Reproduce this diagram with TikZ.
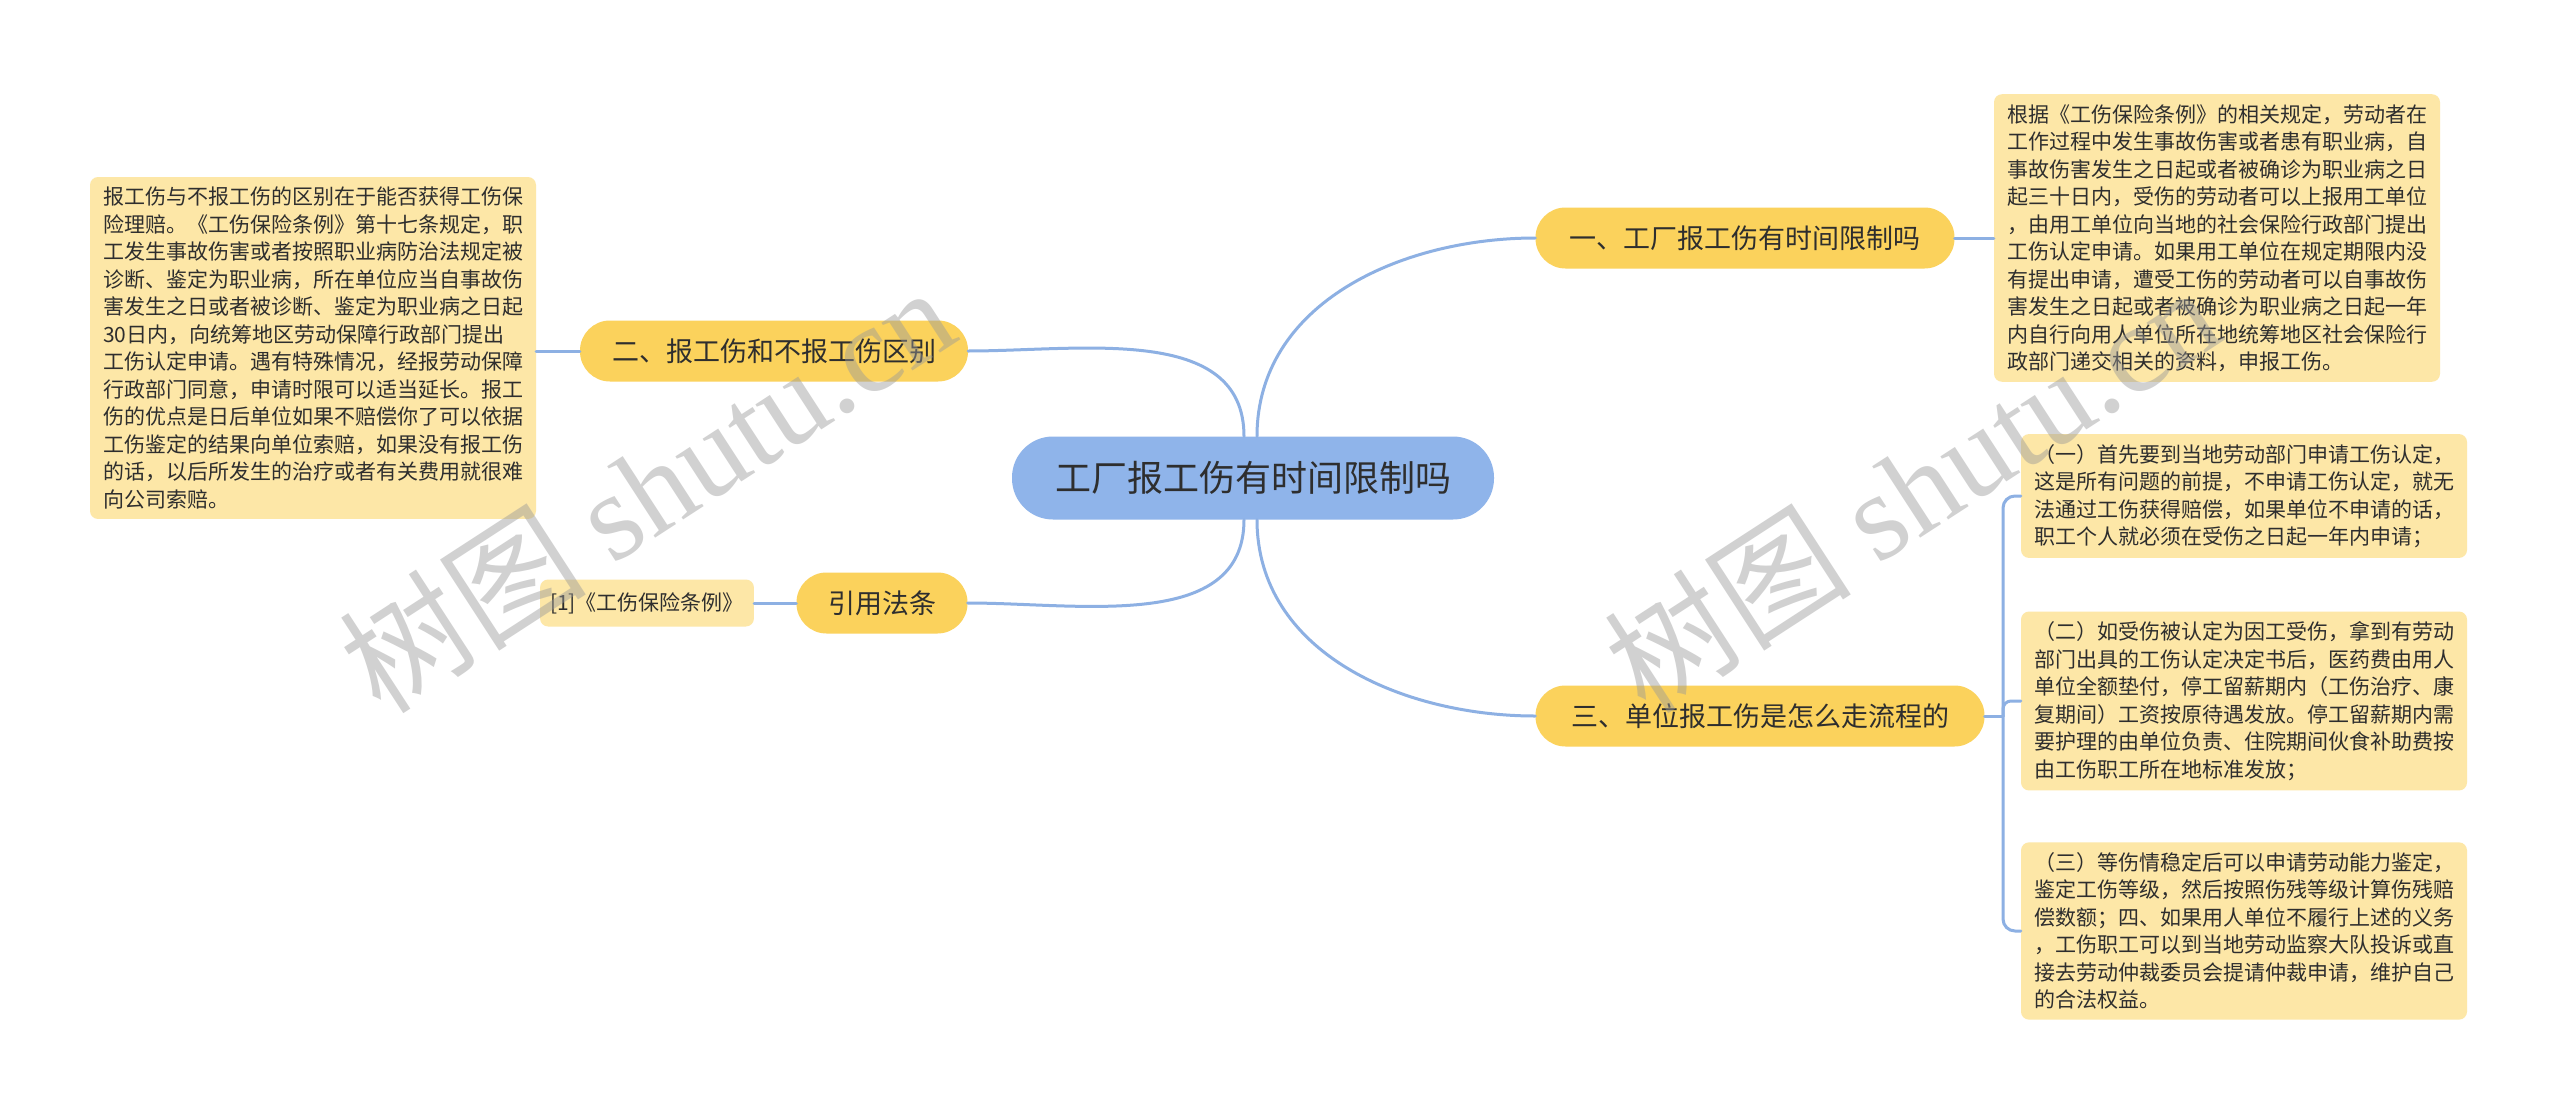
\documentclass[tikz,border=0pt]{standalone}
\usepackage{fontspec}
\setmainfont{Noto Sans CJK SC}
\newfontfamily\markfont{Liberation Serif}
\usetikzlibrary{calc}

\definecolor{linkblue}{HTML}{8DB0E3}
\definecolor{rootblue}{HTML}{8FB4EA}
\definecolor{topicyellow}{HTML}{FBD25C}
\definecolor{notepale}{HTML}{FDE7A7}
\definecolor{inkgray}{HTML}{2E2E2E}

\tikzset{
  root/.style={fill=rootblue,rounded corners=41,minimum width=482,minimum height=83,
    text=inkgray,font=\fontsize{36}{40}\selectfont},
  topic/.style={fill=topicyellow,rounded corners=30,minimum height=61,
    text=inkgray,font=\fontsize{27}{32}\selectfont},
  note/.style={fill=notepale,rounded corners=8,inner xsep=13,inner ysep=10,align=left,
    text=inkgray,font=\fontsize{21}{27.5}\selectfont},
  link/.style={draw=linkblue,line width=3,line cap=round},
  wmark/.style={text=black!40,text opacity=0.45,rotate=33,font=\fontsize{124}{130}\selectfont}
}

\begin{document}
\begin{tikzpicture}[x=1pt,y=-1pt]
  % Boundary
  \path[use as bounding box,fill=white] (0,0) rectangle (2560,1116);
  % Root and topics
  \node[root] (root) at (1253,478) {工厂报工伤有时间限制吗};
  \node[topic,minimum width=419] (limit) at (1745,238) {一、工厂报工伤有时间限制吗};
  \node[topic,minimum width=388] (diff) at (774,351) {二、报工伤和不报工伤区别};
  \node[topic,minimum width=449] (flow) at (1760,716) {三、单位报工伤是怎么走流程的};
  \node[topic,minimum width=171] (law) at (882,603) {引用法条};
  % Notes
  \node[note] (limitnote) at (2217,238) {根据《工伤保险条例》的相关规定，劳动者在\\
    工作过程中发生事故伤害或者患有职业病，自\\
    事故伤害发生之日起或者被确诊为职业病之日\\
    起三十日内，受伤的劳动者可以上报用工单位\\
    ，由用工单位向当地的社会保险行政部门提出\\
    工伤认定申请。如果用工单位在规定期限内没\\
    有提出申请，遭受工伤的劳动者可以自事故伤\\
    害发生之日起或者被确诊为职业病之日起一年\\
    内自行向用人单位所在地统筹地区社会保险行\\
    政部门递交相关的资料，申报工伤。};
  \node[note] (diffnote) at (313,348) {报工伤与不报工伤的区别在于能否获得工伤保\\
    险理赔。《工伤保险条例》第十七条规定，职\\
    工发生事故伤害或者按照职业病防治法规定被\\
    诊断、鉴定为职业病，所在单位应当自事故伤\\
    害发生之日或者被诊断、鉴定为职业病之日起\\
    30日内，向统筹地区劳动保障行政部门提出\\
    工伤认定申请。遇有特殊情况，经报劳动保障\\
    行政部门同意，申请时限可以适当延长。报工\\
    伤的优点是日后单位如果不赔偿你了可以依据\\
    工伤鉴定的结果向单位索赔，如果没有报工伤\\
    的话，以后所发生的治疗或者有关费用就很难\\
    向公司索赔。};
  \node[note,inner xsep=10,minimum height=47] (lawnote) at (647,603) {[1]《工伤保险条例》};
  \node[note] (stepone) at (2244,496) {（一）首先要到当地劳动部门申请工伤认定，\\
    这是所有问题的前提，不申请工伤认定，就无\\
    法通过工伤获得赔偿，如果单位不申请的话，\\
    职工个人就必须在受伤之日起一年内申请；};
  \node[note] (steptwo) at (2244,701) {（二）如受伤被认定为因工受伤，拿到有劳动\\
    部门出具的工伤认定决定书后，医药费由用人\\
    单位全额垫付，停工留薪期内（工伤治疗、康\\
    复期间）工资按原待遇发放。停工留薪期内需\\
    要护理的由单位负责、住院期间伙食补助费按\\
    由工伤职工所在地标准发放；};
  \node[note] (stepthree) at (2244,931) {（三）等伤情稳定后可以申请劳动能力鉴定，\\
    鉴定工伤等级，然后按照伤残等级计算伤残赔\\
    偿数额；四、如果用人单位不履行上述的义务\\
    ，工伤职工可以到当地劳动监察大队投诉或直\\
    接去劳动仲裁委员会提请仲裁申请，维护自己\\
    的合法权益。};
  % Links
  \draw[link] ([xshift=4]root.north) to[out=90,in=180] (limit.west);
  \draw[link] ([xshift=-9]root.north) to[out=90,in=0] (diff.east);
  \draw[link] ([xshift=4]root.south) to[out=-90,in=180] (flow.west);
  \draw[link] ([xshift=-9]root.south) to[out=-90,in=0] (law.east);
  \draw[link] (limit.east) -- (limitnote.west |- limit.east);
  \draw[link] (diff.west) -- (diffnote.east |- diff.west);
  \draw[link] (law.west) -- (lawnote.east);
  \coordinate (fork) at (2003,716);
  \draw[link] (flow.east) -- (fork);
  \draw[link,rounded corners=12] (fork) |- (stepone.west);
  \draw[link,rounded corners=8] (fork) |- (steptwo.west);
  \draw[link,rounded corners=12] (fork) |- (stepthree.west);
  % Watermark
  \node[wmark] (markleft) at (646,488) {树图 {\markfont shutu.cn}};
  \node[wmark] (markright) at (1911,488) {树图 {\markfont shutu.cn}};
\end{tikzpicture}
\end{document}
